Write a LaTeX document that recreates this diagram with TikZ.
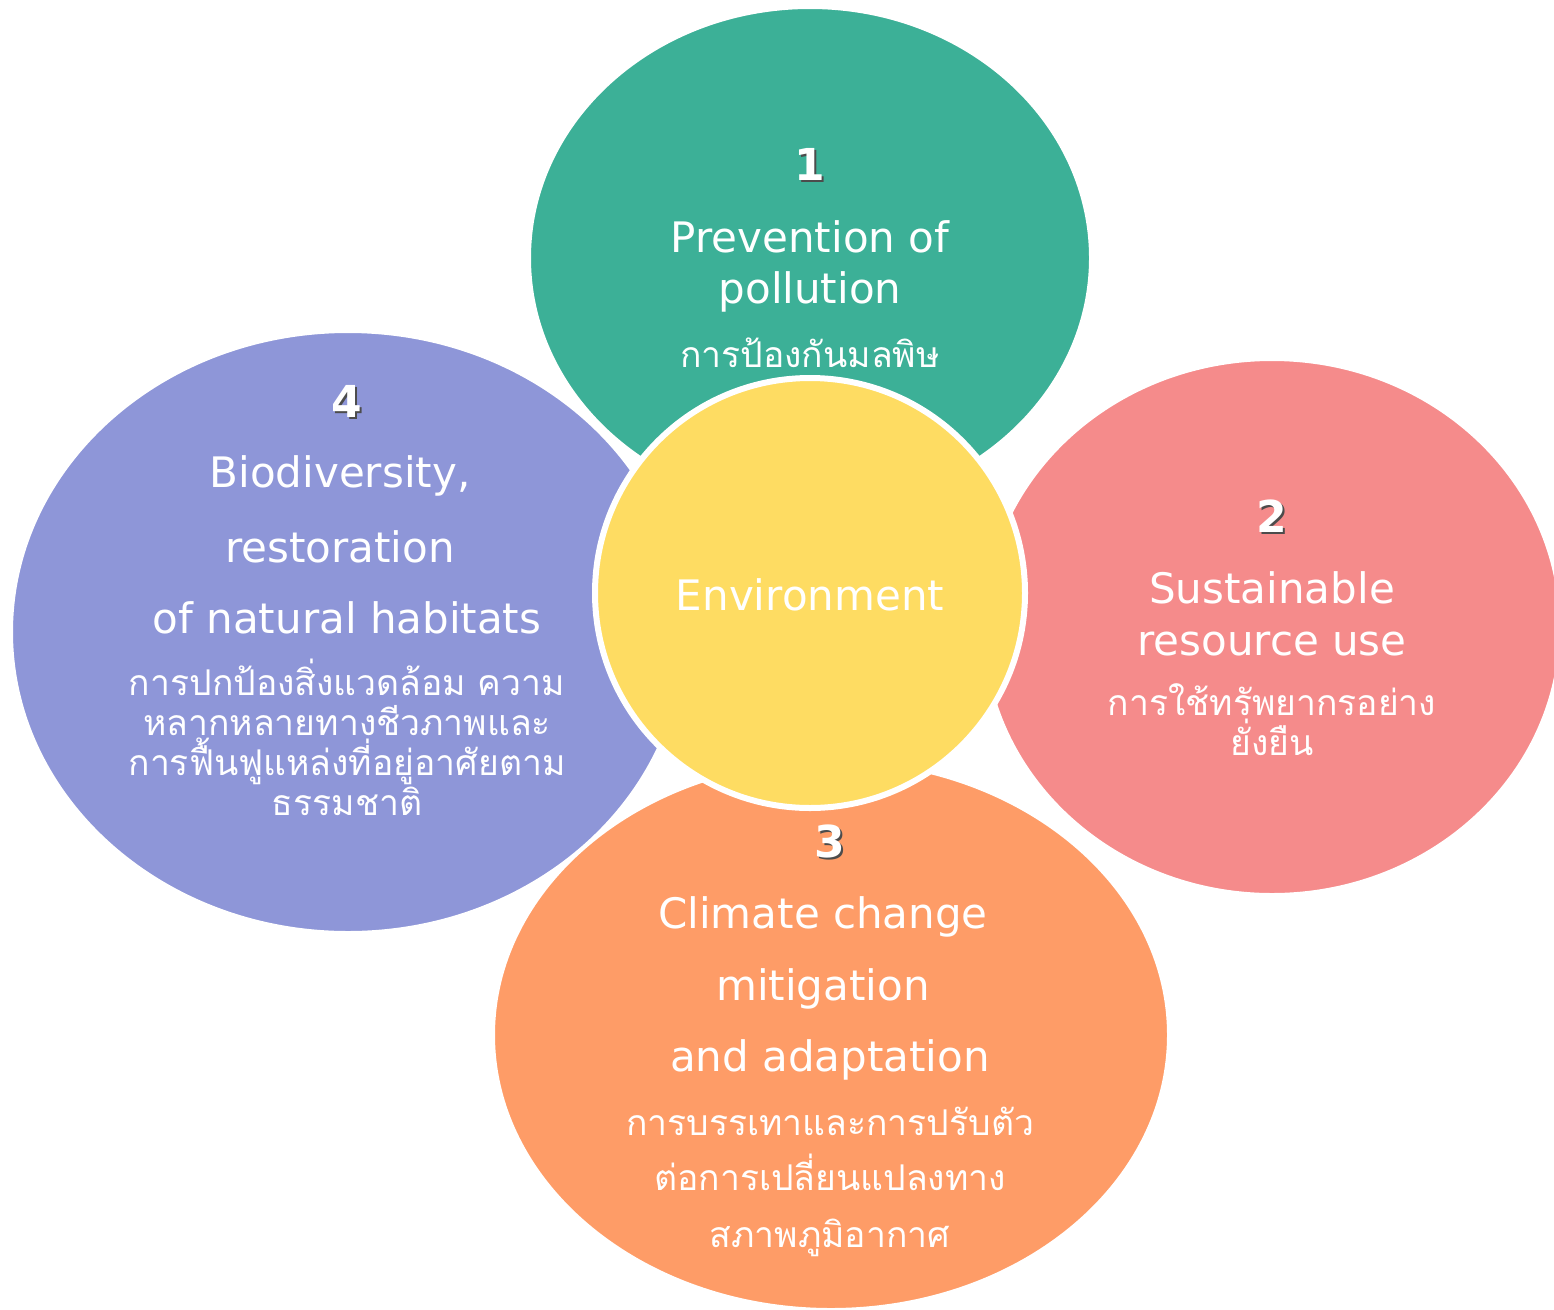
\documentclass[tikz,border=0pt]{standalone}
\usepackage{fontspec}
\setmainfont{DejaVu Sans}
\newfontfamily\thaifont[Script=Thai]{Loma}
\usetikzlibrary{shapes.geometric}

\definecolor{greenblob}{HTML}{3CB097}
\definecolor{redblob}{HTML}{F58B8B}
\definecolor{orangeblob}{HTML}{FE9C67}
\definecolor{purpleblob}{HTML}{8E96D8}
\definecolor{yellowblob}{HTML}{FEDC62}

\tikzset{
  blob/.style={ellipse, draw=white, line width=2pt, inner sep=0pt},
  entext/.style={text=white, anchor=base, inner sep=0pt, font=\fontsize{42}{42}\selectfont},
  thtext/.style={text=white, anchor=base, inner sep=0pt, font=\thaifont\fontsize{35.5}{35.5}\selectfont},
  numtext/.style={anchor=base, inner sep=0pt, font=\bfseries\fontsize{44}{44}\selectfont},
}

% number with a dark shadow
\newcommand{\numtag}[3]{%
  \node[numtext, text=black!70, xshift=2pt, yshift=-2pt] at (#2) {#3};
  \node[numtext, text=white] (#1) at (#2) {#3};
}

\begin{document}
\begin{tikzpicture}[x=1pt, y=-1pt]
    \useasboundingbox (0,0) rectangle (1554,1309);

    % the four blobs
    \node[blob, fill=greenblob, minimum width=560pt, minimum height=500pt] (pollution) at (810,258) {};
    \node[blob, fill=redblob, minimum width=576pt, minimum height=534pt] (resource) at (1272,627) {};
    \node[blob, fill=orangeblob, minimum width=674pt, minimum height=548pt] (climate) at (831,1035) {};
    \node[blob, fill=purpleblob, minimum width=672pt, minimum height=600pt] (habitat) at (348,632) {};

    % centre
    \node[circle, fill=yellowblob, draw=white, line width=6pt, minimum size=430pt] (env) at (810,593) {};
    \node[entext] (envlabel) at (810,610) {Environment};

    % 1
    \numtag{num1}{810,180}{1}
    \node[entext] (pol1) at (810,252) {Prevention of};
    \node[entext] (pol2) at (810,303) {pollution};
    \node[thtext] (polth) at (810,367) {การป้องกันมลพิษ};

    % 2
    \numtag{num2}{1272,532}{2}
    \node[entext] (res1) at (1272,603) {Sustainable};
    \node[entext] (res2) at (1272,655) {resource use};
    \node[thtext] (resth1) at (1272,715) {การใช้ทรัพยากรอย่าง};
    \node[thtext] (resth2) at (1272,755) {ยั่งยืน};

    % 3
    \numtag{num3}{830,857}{3}
    \node[entext] (cli1) at (823,928) {Climate change};
    \node[entext] (cli2) at (823,1000) {mitigation};
    \node[entext] (cli3) at (830,1071) {and adaptation};
    \node[thtext] (clith1) at (830,1135) {การบรรเทาและการปรับตัว};
    \node[thtext] (clith2) at (830,1190) {ต่อการเปลี่ยนแปลงทาง};
    \node[thtext] (clith3) at (830,1247) {สภาพภูมิอากาศ};

    % 4
    \numtag{num4}{347,417}{4}
    \node[entext] (hab1) at (340,487) {Biodiversity,};
    \node[entext] (hab2) at (340,562) {restoration};
    \node[entext] (hab3) at (347,633) {of natural habitats};
    \node[thtext] (habth1) at (347,695) {การปกป้องสิ่งแวดล้อม ความ};
    \node[thtext] (habth2) at (347,735) {หลากหลายทางชีวภาพและ};
    \node[thtext] (habth3) at (347,775) {การฟื้นฟูแหล่งที่อยู่อาศัยตาม};
    \node[thtext] (habth4) at (347,815) {ธรรมชาติ};
\end{tikzpicture}
\end{document}
